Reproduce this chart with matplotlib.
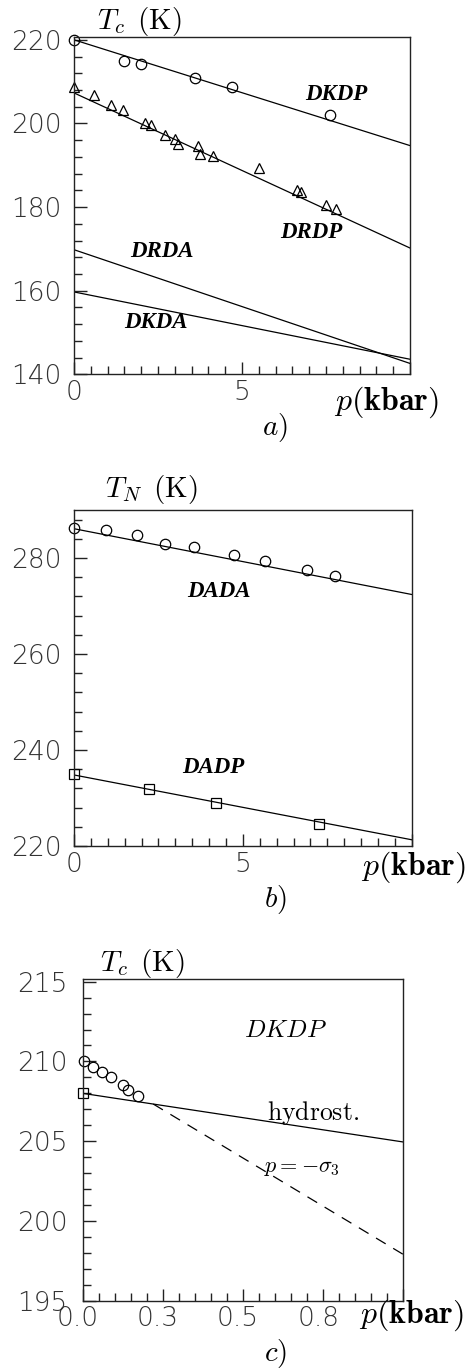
import matplotlib
matplotlib.use("Agg")
import matplotlib.pyplot as plt
import matplotlib.transforms as mtransforms
from matplotlib.ticker import MultipleLocator, FixedLocator

plt.rcParams["mathtext.fontset"] = "cm"

# ---- panel a) data ----
dkdp_p = [0.0, 1.49, 2.0, 3.6, 4.71, 7.61]
dkdp_t = [220.0, 215.0, 214.1, 210.8, 208.6, 202.0]
drdp_p = [0.0, 0.6, 1.1, 1.45, 2.12, 2.29, 2.71, 3.0, 3.09, 3.7, 3.76, 4.15,
          5.5, 6.63, 6.75, 7.49, 7.79]
drdp_t = [208.7, 206.9, 204.5, 203.3, 200.1, 199.7, 197.3, 196.2, 195.1, 194.5,
          192.7, 192.2, 189.3, 184.1, 183.7, 180.5, 179.5]
# fitted lines: (T at p=0, T at p=10)
dkdp_fit = [220.0, 194.7]
drdp_fit = [207.3, 170.2]
drda_fit = [169.8, 142.6]
dkda_fit = [159.7, 143.6]

# ---- panel b) data ----
dada_p = [0.0, 0.95, 1.87, 2.69, 3.56, 4.73, 5.67, 6.9, 7.73]
dada_t = [286.3, 285.8, 284.7, 283.0, 282.3, 280.6, 279.4, 277.4, 276.3]
dadp_p = [0.0, 2.22, 4.2, 7.25]
dadp_t = [235.0, 231.9, 229.0, 224.6]
dada_fit = [286.1, 272.4]
dadp_fit = [234.8, 221.3]

# ---- panel c) data ----
unax_p = [0.004, 0.031, 0.059, 0.088, 0.125, 0.14, 0.172]
unax_t = [210.0, 209.65, 209.33, 209.0, 208.5, 208.2, 207.86]
hydro_p0 = [0.0]
hydro_t0 = [208.0]
hydro_fit_p = [0.0, 1.0]
hydro_fit_t = [208.0, 204.95]
sigma_fit_p = [0.22, 1.0]
sigma_fit_t = [207.33, 197.9]
c_xticklabels = ["0.0", "0.3", "0.5", "0.8"]

W, H = 474, 1369
fig = plt.figure(figsize=(W / 100, H / 100), dpi=100)


def px_axes(left, top, right, bottom):
    return fig.add_axes([left / W, 1 - bottom / H, (right - left) / W, (bottom - top) / H])


TICK_FONT = dict(fontsize=19, color="#333333", fontweight="light", family="DejaVu Sans")
LBL = dict(fontsize=16.5, fontweight="bold", style="italic", family="Liberation Serif")
XLBL = r"$p(\mathbf{kbar})$"


def style_axes(ax):
    for s in ax.spines.values():
        s.set_linewidth(1.0)
        s.set_color("#222222")
    ax.tick_params(which="both", direction="in", top=False, right=False,
                   color="#222222", width=1.0)
    ax.tick_params(which="major", length=9)
    ax.tick_params(axis="x", which="major", pad=4)
    ax.tick_params(axis="y", which="major", pad=9)
    ax.tick_params(which="minor", length=5.5)
    for lab in ax.get_xticklabels() + ax.get_yticklabels():
        lab.set_fontsize(TICK_FONT["fontsize"])
        lab.set_color(TICK_FONT["color"])
        lab.set_fontweight(TICK_FONT["fontweight"])
        lab.set_family(TICK_FONT["family"])


mk = dict(ls="none", mfc="none", mec="black", mew=0.9, clip_on=False)
fitx = [0, 10]

# ---------------- a) ----------------
ax = px_axes(74, 37.3, 410, 374.3)
ax.plot(fitx, dkdp_fit, color="black", lw=0.9)
ax.plot(fitx, drdp_fit, color="black", lw=0.9)
ax.plot(fitx, drda_fit, color="black", lw=0.9)
ax.plot(fitx, dkda_fit, color="black", lw=0.9)
ax.plot(dkdp_p, dkdp_t, marker="o", ms=7.5, **mk)
ax.plot(drdp_p, drdp_t, marker="^", ms=6.5, **mk)
ax.set_xlim(0, 10)
ax.set_ylim(140, 220.6)
ax.xaxis.set_major_locator(FixedLocator([0, 5, 10]))
ax.set_xticklabels(["0", "5", ""])
ax.xaxis.set_minor_locator(MultipleLocator(0.5))
ax.yaxis.set_major_locator(MultipleLocator(20))
ax.yaxis.set_minor_locator(MultipleLocator(4))
style_axes(ax)
ax.text(7.8, 206.8, "DKDP", ha="center", va="center", **LBL)
ax.text(7.07, 174.0, "DRDP", ha="center", va="center", **LBL)
ax.text(2.63, 169.4, "DRDA", ha="center", va="center", **LBL)
ax.text(2.43, 152.5, "DKDA", ha="center", va="center", **LBL)
fig.text(97 / W, 1 - 22 / H, r"$T_c\ \,(\mathrm{K})$", fontsize=21, ha="left", va="center")
fig.text(386 / W, 1 - 402 / H, XLBL, fontsize=23, ha="center", va="center")
fig.text(275 / W, 1 - 427 / H, r"$a)$", fontsize=21, ha="center", va="center")

# ---------------- b) ----------------
ax = px_axes(74, 510, 411.7, 846)
ax.plot(fitx, dada_fit, color="black", lw=0.9)
ax.plot(fitx, dadp_fit, color="black", lw=0.9)
ax.plot(dada_p, dada_t, marker="o", ms=7.5, **mk)
ax.plot(dadp_p, dadp_t, marker="s", ms=7, **mk)
ax.set_xlim(0, 10)
ax.set_ylim(220, 290)
ax.xaxis.set_major_locator(FixedLocator([0, 5, 10]))
ax.set_xticklabels(["0", "5", ""])
ax.xaxis.set_minor_locator(MultipleLocator(0.5))
ax.yaxis.set_major_locator(MultipleLocator(20))
ax.yaxis.set_minor_locator(MultipleLocator(4))
style_axes(ax)
ax.text(4.29, 273.1, "DADA", ha="center", va="center", **LBL)
ax.text(4.12, 236.4, "DADP", ha="center", va="center", **LBL)
fig.text(105 / W, 1 - 490 / H, r"$T_N\ \,(\mathrm{K})$", fontsize=21, ha="left", va="center")
fig.text(413 / W, 1 - 867 / H, XLBL, fontsize=23, ha="center", va="center")
fig.text(275 / W, 1 - 900 / H, r"$b)$", fontsize=21, ha="center", va="center")

# ---------------- c) ----------------
ax = px_axes(82.7, 979.3, 403.3, 1300.7)
ax.plot(hydro_fit_p, hydro_fit_t, color="black", lw=0.9)
ax.plot(sigma_fit_p, sigma_fit_t, color="black", lw=0.9, dashes=(9, 7))
ax.plot(unax_p, unax_t, marker="o", ms=7.5, **mk)
ax.plot(hydro_p0, hydro_t0, marker="s", ms=7.5, **mk)
ax.set_xlim(0, 1.0)
ax.set_ylim(195, 215.15)
ax.xaxis.set_major_locator(FixedLocator([0, 0.25, 0.5, 0.75, 1.0]))
ax.set_xticklabels(c_xticklabels + [""])
ax.xaxis.set_minor_locator(MultipleLocator(0.05))
ax.yaxis.set_major_locator(MultipleLocator(5))
ax.yaxis.set_minor_locator(MultipleLocator(1))
style_axes(ax)
ax.tick_params(axis="y", which="major", pad=11)
shift = mtransforms.ScaledTranslation(-5 / 100, 0, fig.dpi_scale_trans)
for lab in ax.get_xticklabels():
    lab.set_transform(lab.get_transform() + shift)
ax.text(0.632, 211.98, r"$DKDP$", fontsize=18, ha="center", va="center")
ax.text(0.72, 206.77, r"$\mathrm{hydrost.}$", fontsize=18.5, ha="center", va="center")
ax.text(0.684, 203.34, r"$p{=}{-}\sigma_3$", fontsize=16, ha="center", va="center")
fig.text(100 / W, 1 - 963 / H, r"$T_c\ \,(\mathrm{K})$", fontsize=21, ha="left", va="center")
fig.text(411 / W, 1 - 1315 / H, XLBL, fontsize=23, ha="center", va="center")
fig.text(275 / W, 1 - 1353 / H, r"$c)$", fontsize=21, ha="center", va="center")

fig.savefig("out.png", dpi=100)
